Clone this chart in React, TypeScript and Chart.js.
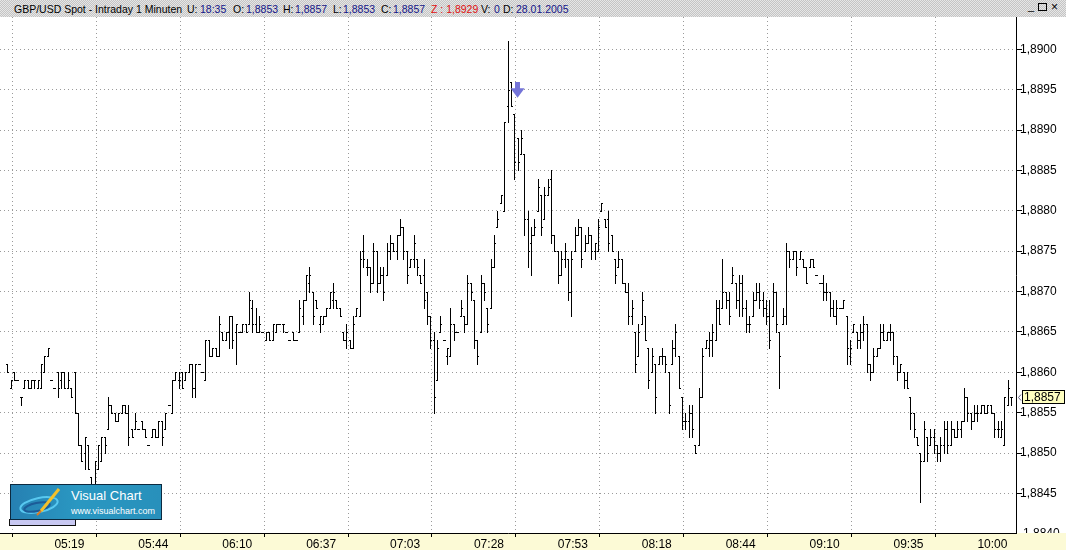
import { useEffect, useRef } from 'react';
import { Chart, registerables } from 'chart.js';

Chart.register(...registerables);

// GBP/USD 1-minute bars, prices in pips above 1.8800 (61 -> 1,8861)
const highs = [
  61, 59, 60, 59, 57, 59, 59, 59, 59, 59,
  61, 62, 63, 59, 58, 60, 60, 60, 60, 58,
  60, 55, 51, 52, 51, 47, 49, 51, 52, 52,
  57, 56, 55, 55, 56, 56, 56, 53, 55, 53,
  54, 53, 51, 53, 53, 54, 54, 55, 56, 59,
  60, 60, 60, 60, 61, 61, 61, 61, 60, 64,
  64, 63, 63, 67, 65, 65, 67, 67, 66, 65,
  66, 66, 70, 69, 68, 67, 65, 65, 65, 66,
  66, 66, 66, 65, 64, 65, 64, 69, 69, 72,
  73, 70, 69, 67, 67, 68, 70, 71, 69, 68,
  65, 66, 64, 67, 68, 75, 77, 74, 73, 76,
  75, 73, 73, 76, 77, 76, 77, 79, 78, 75,
  74, 77, 74, 72, 74, 70, 67, 65, 64, 67,
  64, 63, 68, 66, 65, 69, 67, 72, 71, 69,
  64, 72, 71, 68, 74, 77, 80, 82, 91, 101,
  96, 92, 89, 90, 87, 80, 78, 79, 84, 82,
  83, 84, 85, 77, 75, 75, 76, 74, 75, 78,
  79, 78, 77, 78, 77, 76, 79, 81, 79, 80,
  77, 74, 75, 74, 71, 71, 69, 65, 66, 70,
  67, 63, 63, 61, 62, 63, 62, 60, 64, 66,
  62, 57, 55, 56, 56, 51, 58, 63, 64, 65,
  66, 69, 69, 74, 70, 70, 73, 71, 72, 72,
  69, 67, 70, 71, 71, 70, 69, 69, 71, 70,
  65, 68, 76, 75, 75, 75, 75, 74, 73, 74,
  74, 72, 71, 72, 71, 70, 69, 69, 68, 69,
  67, 64, 66, 65, 66, 67, 66, 61, 63, 63,
  66, 66, 65, 66, 65, 62, 61, 60, 60, 57,
  55, 52, 50, 54, 52, 53, 53, 51, 52, 54,
  54, 54, 53, 54, 54, 58, 57, 55, 56, 56,
  56, 56, 56, 56, 55, 54, 54, 57, 59, 57,
];
const lows = [
  60, 58, 59, 59, 56, 58, 58, 58, 58, 58,
  58, 60, 62, 59, 58, 57, 58, 58, 58, 57,
  55, 51, 49, 48, 48, 45, 46, 48, 49, 50,
  53, 55, 54, 54, 55, 55, 51, 52, 53, 53,
  53, 52, 51, 52, 52, 52, 51, 53, 56, 55,
  59, 58, 58, 59, 60, 57, 57, 61, 60, 59,
  62, 62, 62, 62, 64, 64, 63, 63, 61, 65,
  65, 65, 66, 65, 65, 65, 65, 64, 64, 64,
  65, 66, 65, 65, 64, 64, 64, 65, 66, 69,
  70, 66, 68, 65, 66, 67, 68, 68, 68, 67,
  64, 63, 63, 63, 67, 67, 73, 72, 70, 71,
  70, 71, 69, 72, 74, 75, 74, 77, 74, 71,
  73, 73, 72, 71, 68, 66, 63, 55, 59, 65,
  64, 61, 62, 64, 65, 67, 65, 66, 69, 63,
  61, 65, 69, 65, 68, 73, 78, 81, 80, 91,
  93, 84, 85, 87, 77, 73, 72, 77, 80, 77,
  79, 82, 76, 75, 71, 72, 73, 69, 67, 75,
  77, 73, 75, 76, 74, 74, 75, 80, 78, 75,
  75, 71, 73, 71, 70, 66, 66, 60, 62, 66,
  64, 58, 60, 55, 61, 61, 60, 55, 61, 62,
  58, 53, 53, 52, 52, 50, 51, 57, 63, 62,
  62, 64, 66, 68, 68, 66, 71, 68, 67, 67,
  65, 65, 67, 69, 68, 67, 66, 63, 67, 65,
  58, 66, 66, 73, 74, 72, 74, 73, 71, 73,
  73, 72, 71, 69, 69, 67, 67, 66, 68, 68,
  61, 61, 65, 63, 63, 64, 60, 59, 60, 62,
  63, 64, 64, 64, 61, 59, 60, 58, 58, 53,
  52, 51, 44, 49, 49, 51, 50, 49, 49, 50,
  50, 51, 52, 52, 52, 54, 54, 53, 54, 54,
  55, 55, 55, 55, 52, 52, 52, 51, 56, 56,
];
const opens = [
  61, 58, 60, 59, 57, 58, 59, 58, 59, 58,
  58, 60, 62, 59, 58, 60, 59, 60, 58, 58,
  60, 55, 51, 50, 51, 47, 46, 48, 49, 52,
  53, 56, 55, 54, 55, 56, 55, 53, 53, 53,
  54, 53, 51, 52, 53, 52, 54, 53, 56, 55,
  59, 59, 60, 59, 60, 61, 58, 61, 60, 59,
  64, 62, 63, 62, 65, 64, 65, 67, 65, 65,
  65, 66, 66, 68, 66, 65, 65, 64, 65, 64,
  65, 66, 66, 65, 64, 65, 64, 65, 67, 69,
  71, 70, 69, 66, 66, 67, 68, 69, 69, 68,
  65, 64, 64, 63, 67, 67, 75, 73, 73, 71,
  75, 71, 72, 72, 75, 76, 75, 77, 78, 75,
  73, 74, 74, 72, 72, 70, 67, 64, 59, 65,
  64, 62, 62, 66, 65, 67, 67, 66, 71, 69,
  64, 65, 71, 68, 68, 73, 78, 81, 80, 93,
  96, 92, 89, 87, 87, 79, 76, 77, 80, 82,
  79, 82, 84, 77, 75, 72, 74, 74, 70, 75,
  77, 78, 75, 76, 77, 75, 75, 80, 79, 79,
  77, 74, 73, 74, 71, 70, 67, 65, 62, 66,
  67, 63, 60, 61, 61, 62, 62, 60, 61, 63,
  62, 57, 54, 54, 55, 51, 51, 57, 63, 63,
  64, 64, 68, 68, 70, 69, 71, 71, 69, 71,
  68, 66, 67, 69, 70, 69, 68, 67, 67, 70,
  65, 66, 67, 75, 74, 75, 74, 74, 73, 73,
  74, 72, 71, 71, 70, 70, 68, 67, 68, 68,
  67, 62, 65, 65, 64, 65, 66, 61, 60, 62,
  63, 65, 64, 65, 65, 62, 60, 60, 59, 57,
  55, 52, 50, 49, 52, 51, 52, 51, 50, 51,
  53, 51, 53, 52, 53, 54, 57, 55, 54, 55,
  55, 56, 55, 56, 55, 53, 52, 51, 56, 57,
];
const closes = [
  60, 59, 59, 59, 57, 59, 58, 59, 59, 59,
  61, 62, 63, 59, 58, 58, 60, 58, 59, 57,
  55, 51, 49, 52, 48, 46, 49, 51, 52, 51,
  56, 55, 54, 55, 56, 55, 52, 52, 54, 53,
  53, 52, 51, 53, 52, 54, 52, 55, 56, 59,
  60, 59, 58, 60, 61, 58, 61, 61, 60, 64,
  62, 63, 62, 66, 64, 65, 67, 64, 66, 65,
  66, 65, 69, 66, 65, 66, 65, 65, 64, 66,
  66, 66, 66, 65, 64, 64, 64, 68, 69, 72,
  72, 67, 68, 67, 67, 68, 70, 70, 68, 67,
  64, 65, 63, 66, 68, 74, 74, 73, 71, 75,
  71, 72, 70, 75, 76, 75, 77, 78, 75, 72,
  74, 76, 73, 71, 69, 67, 64, 57, 63, 66,
  64, 63, 66, 65, 65, 68, 66, 71, 70, 64,
  62, 71, 70, 66, 73, 76, 79, 82, 91, 95,
  93, 86, 86, 89, 79, 75, 77, 78, 83, 78,
  82, 83, 77, 75, 72, 74, 75, 70, 74, 77,
  78, 74, 76, 77, 75, 76, 78, 81, 78, 76,
  75, 72, 74, 71, 70, 67, 68, 61, 65, 69,
  64, 59, 62, 57, 62, 62, 61, 56, 63, 65,
  58, 54, 54, 55, 53, 50, 57, 62, 64, 64,
  65, 68, 66, 70, 69, 67, 72, 69, 71, 68,
  66, 66, 69, 70, 69, 68, 67, 64, 70, 66,
  62, 67, 75, 74, 75, 73, 75, 73, 71, 74,
  73, 72, 71, 70, 70, 68, 67, 68, 68, 69,
  63, 63, 66, 64, 65, 66, 61, 60, 62, 63,
  65, 64, 65, 65, 62, 60, 61, 59, 58, 55,
  53, 51, 49, 53, 50, 52, 51, 50, 51, 53,
  51, 53, 52, 53, 54, 57, 55, 54, 55, 55,
  56, 55, 56, 55, 53, 53, 53, 57, 58, 57,
];

// time axis: bar index of each labelled minute
const timeTickBars = [14, 39, 64, 89, 114, 139, 164, 189, 214, 239, 264, 289];
const timeTickLabels = ['05:19', '05:44', '06:10', '06:37', '07:03', '07:28', '07:53', '08:18', '08:44', '09:10', '09:35', '10:00'];
const priceTicks = [1.8845, 1.885, 1.8855, 1.886, 1.8865, 1.887, 1.8875, 1.888, 1.8885, 1.889, 1.8895, 1.89];
const cutPriceTick = 1.884;
const lastPrice = 1.8857;
const signalBar = 152;
const signalPrice = 1.8894;

const X_MIN = -2.208;
const X_MAX = 300.5;
const Y_MIN = 1.88401;
const Y_MAX = 1.8904;

const toPrice = (p: number) => 1.88 + p / 10000;
const fmt = (v: number) => v.toFixed(4).replace('.', ',');
const FONT = '"Liberation Sans", Arial, sans-serif';

const ohlcPlugin = {
  id: 'ohlc',
  beforeDraw(chart: any) {
    const { ctx, width, height, chartArea, scales } = chart;
    ctx.save();
    ctx.fillStyle = '#ffffff';
    ctx.fillRect(0, 0, width, height);
    // 1,8840 sits behind the time strip, only its top shows
    ctx.fillStyle = '#000';
    ctx.font = `12px ${FONT}`;
    ctx.textBaseline = 'middle';
    ctx.fillText(fmt(cutPriceTick), chartArea.right + 7, scales.y.getPixelForValue(cutPriceTick));
    ctx.fillStyle = '#fcfad6';
    ctx.fillRect(0, chartArea.bottom, width, height - chartArea.bottom);
    ctx.restore();
  },
  afterDatasetsDraw(chart: any) {
    const { ctx, chartArea, scales } = chart;
    const { x, y } = scales;
    ctx.save();
    ctx.beginPath();
    ctx.rect(chartArea.left, chartArea.top, chartArea.right - chartArea.left, chartArea.bottom - chartArea.top);
    ctx.clip();
    ctx.fillStyle = '#000';
    highs.forEach((h, i) => {
      const px = Math.round(x.getPixelForValue(i));
      const yh = Math.round(y.getPixelForValue(toPrice(h)));
      const yl = Math.round(y.getPixelForValue(toPrice(lows[i])));
      const yo = Math.round(y.getPixelForValue(toPrice(opens[i])));
      const yc = Math.round(y.getPixelForValue(toPrice(closes[i])));
      ctx.fillRect(px, yh, 1, yl - yh + 1);
      ctx.fillRect(px - 1, yo, 1, 1);
      ctx.fillRect(px + 1, yc, 1, 1);
    });

    // sell signal arrow
    const ax = x.getPixelForValue(signalBar);
    const ay = y.getPixelForValue(signalPrice);
    ctx.fillStyle = '#7474d8';
    ctx.fillRect(Math.round(ax - 2.5), Math.round(ay - 16), 5, 7);
    ctx.beginPath();
    ctx.moveTo(ax - 7, ay - 9.5);
    ctx.lineTo(ax + 7, ay - 9.5);
    ctx.lineTo(ax, ay);
    ctx.closePath();
    ctx.fill();
    ctx.restore();
  },
  afterDraw(chart: any) {
    const { ctx, chartArea, scales } = chart;
    const yp = Math.round(scales.y.getPixelForValue(lastPrice));
    const left = chartArea.right + 6;
    ctx.save();
    ctx.fillStyle = '#ffffc0';
    ctx.fillRect(left, yp - 7, 43, 14);
    ctx.strokeStyle = '#000';
    ctx.lineWidth = 1;
    ctx.strokeRect(left + 0.5, yp - 6.5, 42, 13);
    ctx.strokeStyle = '#606080';
    ctx.beginPath();
    ctx.moveTo(chartArea.right + 5, yp - 2.5);
    ctx.lineTo(chartArea.right + 2.5, yp + 0.5);
    ctx.lineTo(chartArea.right + 5, yp + 3.5);
    ctx.stroke();
    ctx.fillStyle = '#000';
    ctx.font = `12px ${FONT}`;
    ctx.textBaseline = 'middle';
    ctx.fillText(fmt(lastPrice), left + 2, yp + 0.5);
    ctx.restore();
  },
};

const headerParts = [
  { x: 14, text: 'GBP/USD Spot - Intraday 1 Minuten', color: '#000' },
  { x: 187, text: 'U:', color: '#000' },
  { x: 200, text: '18:35', color: '#141488' },
  { x: 233, text: 'O:', color: '#000' },
  { x: 246, text: '1,8853', color: '#141488' },
  { x: 283, text: 'H:', color: '#000' },
  { x: 295, text: '1,8857', color: '#141488' },
  { x: 333, text: 'L:', color: '#000' },
  { x: 343, text: '1,8853', color: '#141488' },
  { x: 381, text: 'C:', color: '#000' },
  { x: 393, text: '1,8857', color: '#141488' },
  { x: 431, text: 'Z : 1,8929', color: '#e01010' },
  { x: 481, text: 'V:', color: '#000' },
  { x: 494, text: '0', color: '#141488' },
  { x: 503, text: 'D:', color: '#000' },
  { x: 516, text: '28.01.2005', color: '#141488' },
];

function Header() {
  return (
    <div
      style={{
        position: 'absolute', left: 0, top: 0, width: 1066, height: 17,
        background: 'repeating-conic-gradient(#c4c4c4 0% 25%, #e6e6e6 0% 50%) 0 0 / 2px 2px',
        fontFamily: FONT, fontSize: 10.5, lineHeight: '12px',
      }}
    >
      {headerParts.map((p, i) => (
        <span key={i} style={{ position: 'absolute', left: p.x, top: 3, color: p.color, whiteSpace: 'nowrap' }}>
          {p.text}
        </span>
      ))}
      <span style={{ position: 'absolute', left: 1028, top: 0, fontSize: 11 }}>_</span>
      <span style={{ position: 'absolute', left: 1038, top: 3, width: 9, height: 8, border: '1px solid #000', boxSizing: 'border-box' }} />
      <span style={{ position: 'absolute', left: 1051, top: 1, fontSize: 12 }}>×</span>
    </div>
  );
}

function Logo() {
  return (
    <>
      <div
        style={{
          position: 'absolute', left: 9, top: 519, width: 67, height: 7,
          background: '#c8c8f2', border: '1px solid #101010', boxSizing: 'border-box',
        }}
      />
      <div
        style={{
          position: 'absolute', left: 10, top: 484, width: 152, height: 36,
          background: 'linear-gradient(90deg, #2680b2 0%, #2a98c2 45%, #2890bb 100%)',
          border: '1px solid #0c2a40', boxSizing: 'border-box', fontFamily: FONT, color: '#fff',
        }}
      >
        <svg width="50" height="34" style={{ position: 'absolute', left: 4, top: 0 }}>
          <ellipse cx="24" cy="20" rx="19" ry="7" fill="none" stroke="#58c8f0" strokeWidth="2" transform="rotate(-12 24 20)" />
          <ellipse cx="22" cy="22" rx="13" ry="4" fill="none" stroke="#1c5c98" strokeWidth="2" transform="rotate(-12 22 22)" />
          <line x1="44" y1="4" x2="26" y2="26" stroke="#f4c02a" strokeWidth="3" />
          <line x1="26" y1="26" x2="22" y2="30" stroke="#e07a20" strokeWidth="2" />
        </svg>
        <span style={{ position: 'absolute', left: 60, top: 3, fontSize: 13, whiteSpace: 'nowrap' }}>Visual Chart</span>
        <span style={{ position: 'absolute', left: 60, top: 21, fontSize: 9, whiteSpace: 'nowrap' }}>www.visualchart.com</span>
      </div>
    </>
  );
}

export default function App() {
  const canvasRef = useRef<HTMLCanvasElement>(null);
  const chartRef = useRef<Chart | null>(null);

  useEffect(() => {
    if (!canvasRef.current) return;
    const ctx = canvasRef.current.getContext('2d');
    if (!ctx) return;

    if (chartRef.current) {
      chartRef.current.destroy();
    }

    chartRef.current = new Chart(ctx, {
      type: 'bar',
      data: {
        datasets: [{
          label: 'GBP/USD',
          data: highs.map((h, i) => ({ x: i, y: [toPrice(lows[i]), toPrice(h)] })) as any,
          backgroundColor: 'rgba(0,0,0,0)',
          borderWidth: 0,
          barThickness: 1,
        }],
      },
      options: {
        animation: false,
        responsive: false,
        maintainAspectRatio: false,
        devicePixelRatio: 1,
        events: [],
        layout: { padding: 0 },
        plugins: {
          legend: { display: false },
          tooltip: { enabled: false },
        },
        scales: {
          x: {
            type: 'linear',
            position: 'bottom',
            min: X_MIN,
            max: X_MAX,
            offset: false,
            afterBuildTicks: (s: any) => { s.ticks = timeTickBars.map((v) => ({ value: v })); },
            afterFit: (s: any) => {
              s.height = 17;
              s.paddingLeft = 0;
              s.paddingRight = 0;
            },
            grid: { color: '#9a9a9a', tickColor: '#000', tickLength: 4, tickBorderDash: [] } as any,
            border: { color: '#000', dash: [1, 3] },
            ticks: {
              align: 'start',
              padding: 0,
              maxRotation: 0,
              autoSkip: false,
              color: '#000',
              font: { family: FONT, size: 12 },
              callback: (v: any) => timeTickLabels[timeTickBars.indexOf(Number(v))] ?? '',
            },
          },
          y: {
            type: 'linear',
            position: 'right',
            min: Y_MIN,
            max: Y_MAX,
            afterBuildTicks: (s: any) => { s.ticks = priceTicks.map((v) => ({ value: v })); },
            afterFit: (s: any) => {
              s.width = 50;
              s.paddingTop = 0;
              s.paddingBottom = 0;
            },
            grid: { color: '#9a9a9a', tickColor: '#000', tickLength: 6, tickBorderDash: [] } as any,
            border: { color: '#000', dash: [1, 3] },
            ticks: {
              padding: -2,
              color: '#000',
              font: { family: FONT, size: 12 },
              callback: (v: any) => fmt(Number(v)),
            },
          },
        },
      },
      plugins: [ohlcPlugin],
    });

    return () => {
      if (chartRef.current) {
        chartRef.current.destroy();
        chartRef.current = null;
      }
    };
  }, []);

  return (
    <div style={{ position: 'absolute', left: 0, top: 0, width: 1066, height: 550, overflow: 'hidden', background: '#fff' }}>
      <Header />
      <canvas ref={canvasRef} width={1066} height={533} style={{ position: 'absolute', left: 0, top: 17, width: 1066, height: 533 }} />
      <Logo />
    </div>
  );
}
